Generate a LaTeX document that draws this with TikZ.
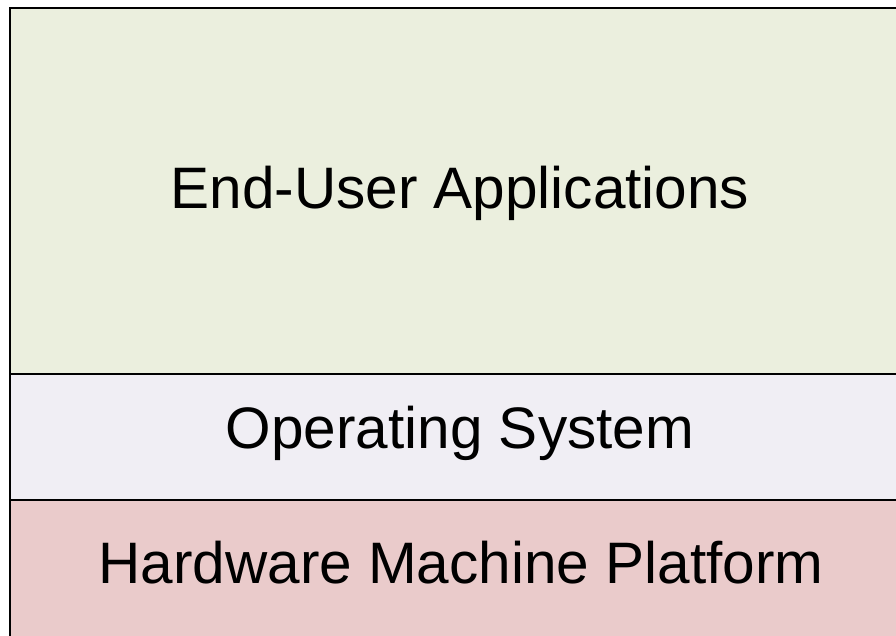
\documentclass[tikz,border=0pt]{standalone}
\usepackage{fontspec}
\setmainfont{Liberation Sans}
\definecolor{appgreen}{HTML}{EBEFDE}
\definecolor{oslav}{HTML}{F0EEF4}
\definecolor{hwpink}{HTML}{EACBCB}
\tikzset{
  layer/.style={draw=black, line width=1.2pt},
  layertext/.style={anchor=base, inner sep=0pt, font=\fontsize{58.5}{70}\selectfont}
}
\begin{document}
\begin{tikzpicture}[x=1pt, y=-1pt]
\useasboundingbox (0,0) rectangle (896,636);
\clip (0,0) rectangle (896,636);
\fill[white] (0,0) rectangle (896,636);
% stacked layers
\filldraw[layer, fill=appgreen] (10,8) rectangle (910,374);
\filldraw[layer, fill=oslav] (10,374) rectangle (910,500);
\filldraw[layer, fill=hwpink] (10,500) rectangle (910,650);
% labels
\node[layertext] (apps) at (460,209) {End-User Applications};
\node[layertext] (os) at (460,448) {Operating System};
\node[layertext] (hw) at (461,583) {Hardware Machine Platform};
\end{tikzpicture}
\end{document}
